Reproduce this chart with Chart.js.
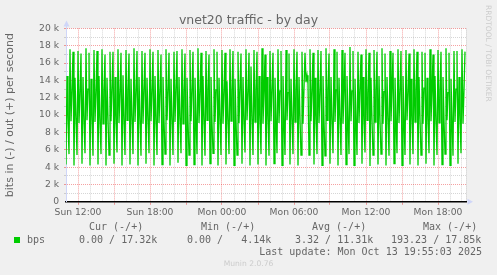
<!DOCTYPE html>
<html>
<head>
<meta charset="utf-8">
<title>vnet20 traffic - by day</title>
<script src="https://cdn.jsdelivr.net/npm/chart.js@4.4.1/dist/chart.umd.min.js"></script>
<style>
  html, body { margin: 0; padding: 0; background: #f0f0f0; }
  #wrap { position: relative; width: 497px; height: 275px; overflow: hidden; }
  #chart { position: absolute; left: 0; top: 0; }
  .mono { position: absolute; white-space: pre; color: #666; font-family: "DejaVu Sans Mono", monospace; font-size: 10px; line-height: 12px; }
  #title { position: absolute; left: 0; width: 497px; top: 13px; text-align: center; color: #666; font-family: "DejaVu Sans", sans-serif; font-size: 12.5px; line-height: 14px; }
  #munin { position: absolute; left: 0; width: 497px; top: 259px; text-align: center; color: #ccc; font-family: "DejaVu Sans", sans-serif; font-size: 7.6px; line-height: 10px; }
  #rrd { position: absolute; left: 483px; top: 5px; writing-mode: vertical-rl; color: #ccc; font-family: "DejaVu Sans", sans-serif; font-size: 7.5px; line-height: 10px; white-space: pre; }
  #swatch { position: absolute; left: 14px; top: 237px; width: 6px; height: 6px; background: #00cc00; }
</style>
</head>
<body>
<div id="wrap">
  <canvas id="chart" width="497" height="275"></canvas>
  <div id="title">vnet20 traffic - by day</div>
  <div id="rrd">RRDTOOL / TOBI OETIKER</div>
  <div class="mono" style="left:89px; top:221px">Cur (-/+)</div>
  <div class="mono" style="left:201px; top:221px">Min (-/+)</div>
  <div class="mono" style="left:312px; top:221px">Avg (-/+)</div>
  <div class="mono" style="left:423px; top:221px">Max (-/+)</div>
  <div id="swatch"></div>
  <div class="mono" style="left:27px; top:234px">bps</div>
  <div class="mono" style="left:79px; top:234px">0.00 / 17.32k</div>
  <div class="mono" style="left:187px; top:234px">0.00 /   4.14k</div>
  <div class="mono" style="left:295px; top:234px">3.32 / 11.31k</div>
  <div class="mono" style="left:391px; top:234px">193.23 / 17.85k</div>
  <div class="mono" style="right:15px; top:246px">Last update: Mon Oct 13 19:55:03 2025</div>
  <div id="munin">Munin 2.0.76</div>
</div>
<script>
// out traffic in kbit/s, one sample every 5 minutes, Sun 10:40 .. Mon 19:55
const outValues = [
  4.3,14.5,9.4,5.5,17.6,9.3,12.9,17.3, 4.2,14.3,9.6,5.4,17.4,9.1,12.6,17.1,
  4.4,14.4,9.3,5.6,17.7,9.4,13.0,17.2, 4.2,14.2,9.5,5.3,17.5,9.2,12.7,17.4,
  4.3,14.5,9.2,5.5,17.6,9.0,12.8,17.0, 4.2,14.3,9.6,5.4,17.3,9.3,13.1,17.3,
  4.4,14.4,9.4,5.7,17.6,9.1,12.6,17.2, 4.2,14.6,9.3,5.4,17.5,9.4,12.9,17.1,
  4.3,14.2,9.5,5.5,17.7,9.2,12.7,17.4, 4.2,14.4,9.4,5.3,17.4,9.0,13.0,17.2,
  4.4,14.3,9.6,5.6,17.6,9.3,12.8,17.3, 4.2,14.5,9.3,5.4,17.5,9.1,12.6,17.0,
  4.3,14.4,9.5,5.5,17.6,9.4,12.9,17.2, 4.2,14.2,9.4,5.4,17.3,9.2,13.1,17.4,
  4.5,14.4,9.6,5.6,17.6,9.0,12.7,17.1, 4.2,14.3,9.3,5.4,17.5,9.3,12.8,17.3,
  4.3,14.3,9.5,5.5,17.7,9.1,12.6,17.2, 4.2,14.5,9.4,5.3,17.4,9.4,13.0,17.0,
  4.4,14.4,9.2,5.6,17.6,9.2,12.9,17.3, 4.2,14.3,9.6,5.4,17.5,9.0,12.7,17.2,
  4.3,13.9,9.4,5.5,17.6,9.3,12.8,17.4, 4.2,14.2,9.5,5.4,17.3,9.1,13.1,17.1,
  4.4,14.4,9.3,5.7,17.6,9.4,12.6,17.2, 4.2,15.6,9.5,5.4,17.5,9.2,12.9,17.3,
  4.3,14.5,9.4,5.5,17.7,9.0,12.7,17.0, 4.2,14.4,9.6,5.3,17.4,9.3,13.0,17.2,
  4.4,14.3,9.3,5.6,17.6,9.1,12.8,17.4, 4.2,14.5,9.5,5.4,17.5,9.4,12.6,17.1,
  4.3,14.2,9.4,5.5,17.6,9.2,12.9,17.3, 4.2,14.4,9.6,5.4,17.3,9.0,13.1,17.2,
  13.8,14.6,13.6,5.4,17.6,9.3,12.8,17.2, 4.3,14.3,9.5,5.5,17.5,9.1,12.6,17.4,
  4.2,14.5,9.4,5.3,17.7,9.4,13.0,17.1, 4.4,14.4,9.2,5.6,17.6,9.2,12.9,17.3,
  4.2,14.3,9.6,5.4,17.5,9.0,12.7,17.2, 4.3,14.5,9.4,5.5,17.85,9.3,12.8,17.4,
  4.2,14.2,9.5,5.4,17.3,9.1,13.1,17.0, 4.4,14.4,9.3,5.7,17.6,9.4,12.6,17.2,
  4.14,14.3,9.5,5.4,17.5,9.2,12.9,17.3, 4.3,14.5,9.4,5.5,17.7,9.0,12.7,17.1,
  4.2,14.4,9.6,5.3,17.4,9.3,13.0,17.2, 4.4,14.3,9.3,5.6,17.6,9.1,12.8,17.4,
  4.2,14.5,9.5,5.4,17.5,9.4,12.6,17.1, 4.3,14.2,9.4,5.5,17.6,9.2,12.9,17.3,
  4.2,14.4,9.6,5.4,17.3,9.0,13.1,17.2, 4.4,14.3,9.4,5.6,17.6,9.3,12.7,17.0,
  4.2,14.5,9.3,5.4,17.5,9.1,12.8,17.3, 4.3,14.4,9.5,5.5,17.7,9.4,12.6,17.2,
  4.2,14.2,9.4,5.3,17.4,9.2,13.0,17.4, 4.4,14.4,9.6,5.6,17.6,9.0,12.9,17.32
];

// hours relative to Mon 00:00
const START_HOUR = -13 - 20 / 60;   // Sun 10:40
const END_HOUR = 20;                // Mon 20:00
const STEP_HOUR = 5 / 60;
const sampleHours = outValues.map((v, i) => START_HOUR + i * STEP_HOUR);

const xTickHours = [-12, -6, 0, 6, 12, 18];
const xTickLabels = ['Sun 12:00', 'Sun 18:00', 'Mon 00:00', 'Mon 06:00', 'Mon 12:00', 'Mon 18:00'];
const yTickValues = [0, 2, 4, 6, 8, 10, 12, 14, 16, 18, 20];
const yTickLabels = ['0', '2 k', '4 k', '6 k', '8 k', '10 k', '12 k', '14 k', '16 k', '18 k', '20 k'];

const MAJOR = 'rgba(229, 0, 0, 0.37)';
const MINOR = 'rgba(143, 143, 143, 0.37)';
const AXIS = '#CFD6F8';

const rrdFrame = {
    id: 'rrdFrame',
    beforeDraw(chart) {
        const { ctx, chartArea: a } = chart;
        ctx.save();
        ctx.fillStyle = '#ffffff';
        ctx.fillRect(a.left, a.top, a.right - a.left, a.bottom - a.top);
        ctx.restore();
    },
    afterDraw(chart) {
        const { ctx, chartArea: a } = chart;
        ctx.save();
        ctx.fillStyle = AXIS;
        // arrow on top of the y axis
        ctx.fillRect(a.left, a.top - 3, 1, 3);
        ctx.beginPath();
        ctx.moveTo(a.left + 0.5, a.top - 8);
        ctx.lineTo(a.left - 2.5, a.top - 2);
        ctx.lineTo(a.left + 3.5, a.top - 2);
        ctx.closePath();
        ctx.fill();
        // arrow at the end of the x axis
        ctx.beginPath();
        ctx.moveTo(a.right + 7, a.bottom);
        ctx.lineTo(a.right + 1.5, a.bottom - 3);
        ctx.lineTo(a.right + 1.5, a.bottom + 3);
        ctx.closePath();
        ctx.fill();
        ctx.restore();
    }
};

const tickFont = { family: 'DejaVu Sans', size: 9.2 };

new Chart(document.getElementById('chart'), {
    type: 'line',
    data: {
        labels: sampleHours,
        datasets: [{
            label: 'bps',
            data: outValues,
            borderColor: '#00cc00',
            borderWidth: 1.3,
            pointRadius: 0,
            tension: 0,
            fill: false
        }]
    },
    options: {
        responsive: false,
        animation: false,
        events: [],
        layout: { padding: { left: 0, top: 28.4, right: 31, bottom: 53.2 } },
        plugins: { legend: { display: false }, tooltip: { enabled: false } },
        scales: {
            x: {
                type: 'linear',
                min: START_HOUR,
                max: END_HOUR,
                bounds: 'data',
                z: 1,
                ticks: {
                    stepSize: 1,
                    autoSkip: false,
                    maxRotation: 0,
                    includeBounds: false,
                    padding: 2,
                    color: '#666',
                    font: tickFont,
                    callback: (v) => {
                        const i = xTickHours.indexOf(Math.round(v));
                        return i >= 0 ? xTickLabels[i] : '';
                    }
                },
                grid: {
                    color: (c) => Math.abs(Math.round(c.tick.value)) % 3 === 0 ? MAJOR : MINOR,
                    tickColor: (c) => Math.abs(Math.round(c.tick.value)) % 3 === 0 ? MAJOR : 'rgba(0,0,0,0)',
                    tickLength: 3
                },
                border: { color: '#000', width: 1.5, dash: [1, 1] },
                afterFit: (s) => { s.height = 20; }
            },
            y: {
                min: 0,
                max: 20,
                z: 1,
                ticks: {
                    stepSize: 1,
                    autoSkip: false,
                    padding: 5,
                    color: '#666',
                    font: tickFont,
                    callback: (v) => {
                        const i = yTickValues.indexOf(v);
                        return i >= 0 ? yTickLabels[i] : '';
                    }
                },
                grid: {
                    color: (c) => c.tick.value === 0 ? 'rgba(0,0,0,0)' : (c.tick.value % 2 === 0 ? MAJOR : MINOR),
                    tickLength: 2
                },
                border: { color: AXIS, width: 1, dash: [1, 1] },
                title: {
                    display: true,
                    text: 'bits in (-) / out (+) per second',
                    color: '#666',
                    font: { family: 'DejaVu Sans', size: 11 }
                },
                afterFit: (s) => { s.width = 66; }
            }
        }
    },
    plugins: [rrdFrame]
});
</script>
</body>
</html>
